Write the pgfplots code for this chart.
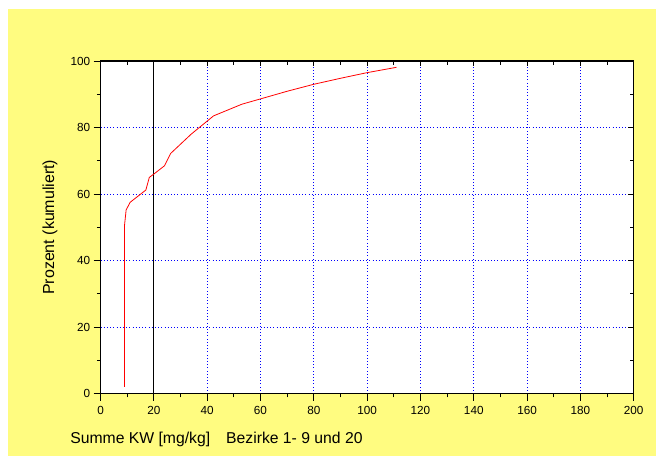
\documentclass[border=0pt]{standalone}
\usepackage{pgfplots}
\pgfplotsset{compat=1.18}
\usepackage{fontspec}
\setmainfont{Liberation Sans}
\definecolor{bgyellow}{RGB}{255,252,128}
\begin{document}
\begin{tikzpicture}
\useasboundingbox (0,0) rectangle (492.75pt,342.75pt);
\fill[white] (0,0) rectangle (492.75pt,342.75pt);
\fill[bgyellow] (6pt,0.75pt) rectangle (492pt,336pt);
\begin{axis}[
  at={(75.4pt,47.6pt)}, anchor=south west,
  scale only axis, width=399.9pt, height=249.4pt,
  xmin=0, xmax=200, ymin=0, ymax=100,
  xtick={0,20,...,200}, ytick={0,20,...,100},
  minor tick num=1,
  xtick pos=left, ytick pos=left,
  tick align=outside,
  major tick length=5.25pt, minor tick length=2.8pt,
  tick style={black, line width=0.6pt},
  axis line style={black, line width=0.8pt},
  axis background/.style={fill=white},
  grid=major,
  major grid style={blue, dotted, line width=0.6pt},
  ticklabel style={font=\fontsize{8.8}{10}\selectfont},
  xticklabel style={yshift=-1pt},
  yticklabel style={xshift=1pt},
  /pgf/number format/assume math mode=true,
  xlabel={Summe KW [mg/kg]\hspace{12pt}Bezirke 1- 9 und 20},
  ylabel={Prozent (kumuliert)},
  xlabel style={font=\fontsize{11.8}{14}\selectfont, at={(axis description cs:-0.0572,-0.151)}, anchor=base west, inner sep=0pt},
  ylabel style={font=\fontsize{12}{14}\selectfont, at={(axis description cs:-0.095,0.5)}, anchor=center, rotate=0},
]
\addplot[black, line width=0.6pt] coordinates {(20,0) (20,100)};
\addplot[red, line width=0.6pt] coordinates {
(9,2) (9,50.6) (9.6,55.2) (11.1,57.5) (17,61.2) (18.3,65) (20,66) (24,68.5) (26.3,72.2) (34,78) (42.4,83.5) (53,87.0) (60,88.6) (70,90.9) (80,93.0) (90,94.8) (100,96.5) (111,98.1)
};
\end{axis}
\begin{axis}[
  at={(75.4pt,47.6pt)}, anchor=south west,
  scale only axis, width=399.9pt, height=249.4pt,
  xmin=0, xmax=200, ymin=0, ymax=100,
  xtick={0,20,...,200}, ytick={0,20,...,100},
  minor tick num=1,
  xtick pos=right, ytick pos=right,
  tick align=inside,
  major tick length=4pt, minor tick length=3pt,
  tick style={black, line width=0.6pt},
  axis line style={black, line width=0.8pt},
  xticklabels={}, yticklabels={},
]
\end{axis}
\end{tikzpicture}
\end{document}
